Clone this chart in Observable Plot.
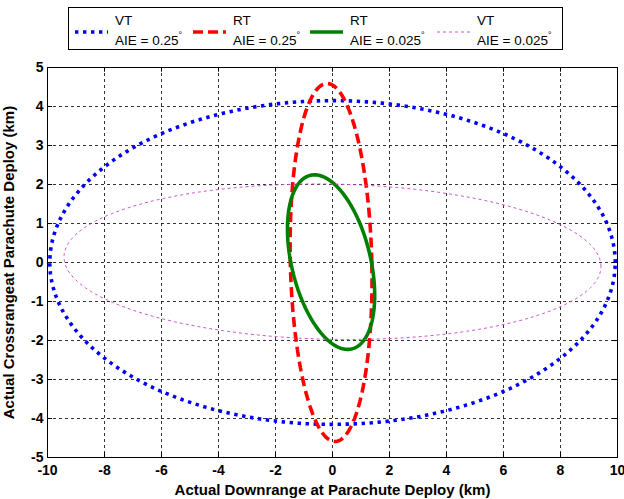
<!DOCTYPE html>
<html>
<head>
<meta charset="utf-8">
<script src="https://cdn.jsdelivr.net/npm/d3@7"></script>
<script src="https://cdn.jsdelivr.net/npm/@observablehq/plot@0.6"></script>
<style>
  html, body { margin: 0; padding: 0; background: #fff; }
  #wrap { width: 624px; height: 499px; position: relative; font-family: "Liberation Sans", Arial, sans-serif; }
  #legend { display: block; }
  #chart svg { display: block; }
</style>
</head>
<body>
<div id="wrap">
  <svg id="legend" width="624" height="56"></svg>
  <div id="chart"></div>
</div>
<script>
// ---- data ----
const xTicks = [-10, -8, -6, -4, -2, 0, 2, 4, 6, 8, 10];
const yTicks = [-5, -4, -3, -2, -1, 0, 1, 2, 3, 4, 5];
const seriesMethod = ["VT", "RT", "RT", "VT"];
const seriesAIE = ["0.25", "0.25", "0.025", "0.025"];
// Ellipse parameters (km):
// x = cx + ax*cos t + bx*sin t ; y = cy + ay*cos t + by*sin t
const centerX = [0.0, -0.05, -0.05, 0.0];
const centerY = [0.0, 0.0, 0.01, 0.02];
const axCos = [9.92, 1.43, 1.53, 9.42];
const axSin = [0.0, -0.14, 0.0, 0.0];
const ayCos = [0.0, 0.0, -0.85, -0.12];
const aySin = [4.15, 4.59, 2.07, 1.99];

const xLabel = "Actual Downrange at Parachute Deploy (km)";
const yLabel = "Actual Crossrangeat Parachute Deploy (km)";

// ---- styles ----
const styles = [
  {stroke: "#0000ff", strokeWidth: 3.6, strokeDasharray: "3.4,4.6", strokeLinecap: "butt"},
  {stroke: "#ff0000", strokeWidth: 3.6, strokeDasharray: "10,5", strokeLinecap: "butt"},
  {stroke: "#008000", strokeWidth: 3.6, strokeDasharray: null, strokeLinecap: "round"},
  {stroke: "#cc55cc", strokeWidth: 1, strokeDasharray: "3,3", strokeLinecap: "butt"}
];

// ---- build ellipse points ----
const N = 360;
const curves = seriesMethod.map((m, i) =>
  d3.range(N + 1).map(k => {
    const t = (k / N) * 2 * Math.PI;
    return {
      x: centerX[i] + axCos[i] * Math.cos(t) + axSin[i] * Math.sin(t),
      y: centerY[i] + ayCos[i] * Math.cos(t) + aySin[i] * Math.sin(t)
    };
  })
);

const x0 = xTicks[0], x1 = xTicks[xTicks.length - 1];
const y0 = yTicks[0], y1 = yTicks[yTicks.length - 1];
const tx = (x1 - x0) * 0.009, ty = (y1 - y0) * 0.012;

const chart = Plot.plot({
  width: 624,
  height: 443,
  marginLeft: 47,
  marginRight: 7,
  marginTop: 11,
  marginBottom: 42,
  x: {domain: [x0, x1]},
  y: {domain: [y0, y1]},
  style: {fontFamily: "'Liberation Sans', Arial, sans-serif", fontSize: "14px", fontWeight: "bold", color: "#000", background: "#fff"},
  marks: [
    Plot.gridX(xTicks, {stroke: "#000", strokeOpacity: 0.8, strokeDasharray: "3,3"}),
    Plot.gridY(yTicks, {stroke: "#000", strokeOpacity: 0.8, strokeDasharray: "3,3"}),
    Plot.ruleX(xTicks, {x: d => d, y1: y0, y2: y0 + ty, stroke: "#000"}),
    Plot.ruleX(xTicks, {x: d => d, y1: y1, y2: y1 - ty, stroke: "#000"}),
    Plot.ruleY(yTicks, {y: d => d, x1: x0, x2: x0 + tx, stroke: "#000"}),
    Plot.ruleY(yTicks, {y: d => d, x1: x1, x2: x1 - tx, stroke: "#000"}),
    ...curves.map((pts, i) => Plot.line(pts, {x: "x", y: "y", ...styles[i], strokeLinejoin: "miter"})),
    Plot.frame({stroke: "#000", strokeWidth: 1}),
    Plot.axisX(xTicks, {tickSize: 0, tickPadding: 8, tickFormat: d => String(d), label: xLabel, labelAnchor: "center", labelArrow: "none", labelOffset: 37}),
    Plot.axisY(yTicks, {tickSize: 0, tickPadding: 4, tickFormat: d => String(d), label: yLabel, labelAnchor: "center", labelArrow: "none", labelOffset: 44})
  ]
});
document.getElementById("chart").appendChild(chart);
// axis titles slightly larger
d3.select(chart).selectAll('[aria-label="x-axis label"] text, [aria-label="y-axis label"] text')
  .attr("font-size", 15);
d3.select(chart).selectAll('[aria-label="x-axis label"], [aria-label="y-axis label"]')
  .attr("font-size", 15);

// ---- legend ----
const leg = d3.select("#legend");
leg.append("rect").attr("x", 68.5).attr("y", 7.5).attr("width", 494).attr("height", 42)
  .attr("fill", "#fff").attr("stroke", "#000").attr("stroke-width", 1);
const sampleStart = [75, 193, 310, 437];
seriesMethod.forEach((m, i) => {
  const s = styles[i];
  const sx = sampleStart[i];
  leg.append("line").attr("x1", sx).attr("x2", sx + 33).attr("y1", 32).attr("y2", 32)
    .attr("stroke", s.stroke).attr("stroke-width", s.strokeWidth)
    .attr("stroke-dasharray", s.strokeDasharray).attr("stroke-linecap", "butt");
  const g = leg.append("text").attr("font-family", "'Liberation Sans', Arial, sans-serif").attr("font-size", 13.5).attr("fill", "#000");
  g.append("tspan").attr("x", sx + 40).attr("y", 25).text(m);
  g.append("tspan").attr("x", sx + 40).attr("y", 45).text("AIE = " + seriesAIE[i]);
  g.append("tspan").attr("dy", -7).attr("font-size", 9).text("°");
});
</script>
</body>
</html>
